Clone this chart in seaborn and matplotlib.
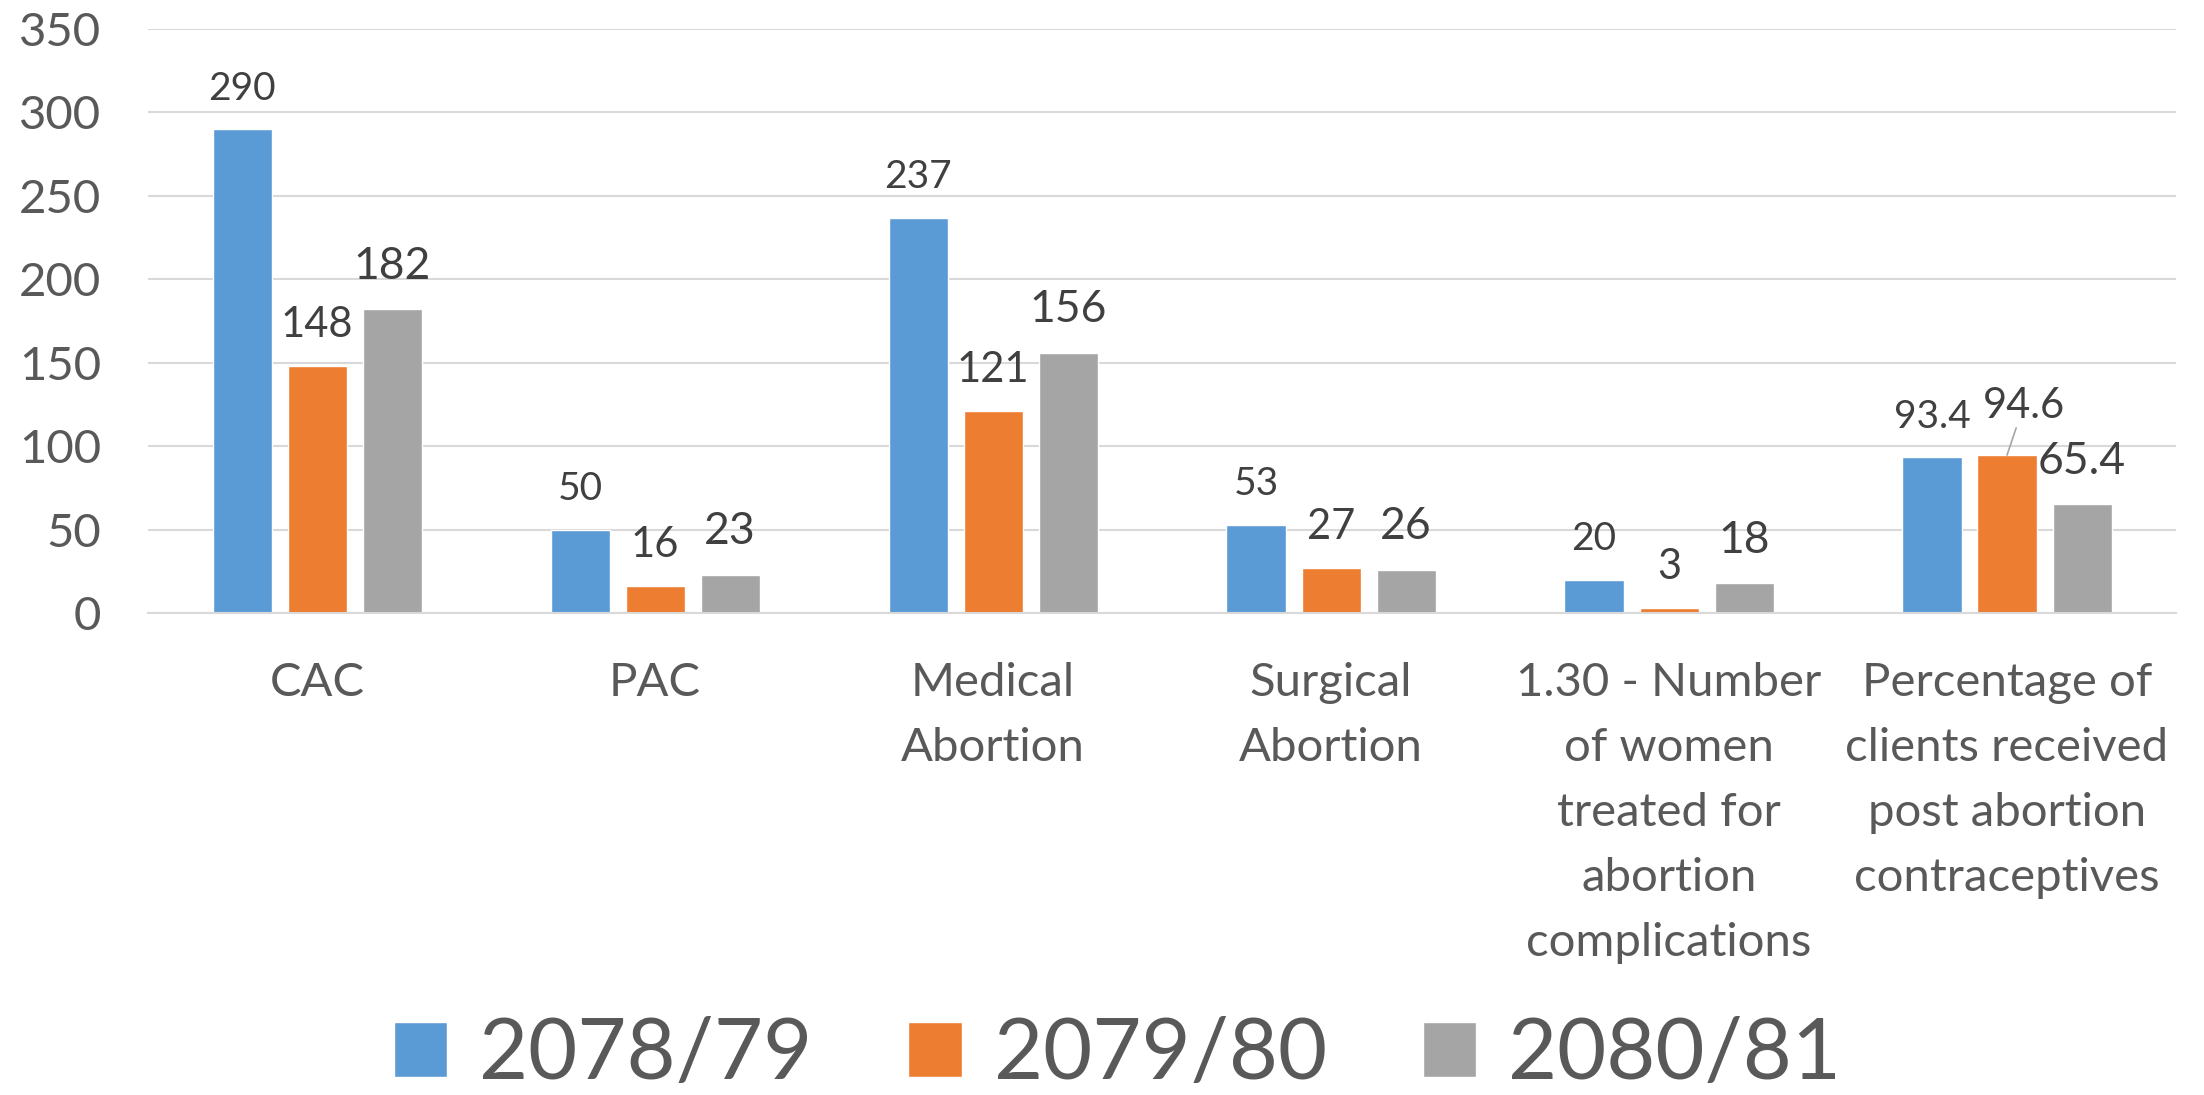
import matplotlib
matplotlib.use("Agg")
import matplotlib.pyplot as plt
import seaborn as sns
import pandas as pd

categories = ["CAC", "PAC", "Medical\nAbortion", "Surgical\nAbortion",
              "1.30 - Number\nof women\ntreated for\nabortion\ncomplications",
              "Percentage of\nclients received\npost abortion\ncontraceptives"]
years = ["2078/79", "2079/80", "2080/81"]
v_7879 = [290, 50, 237, 53, 20, 93.4]
v_7980 = [148, 16, 121, 27, 3, 94.6]
v_8081 = [182, 23, 156, 26, 18, 65.4]
label_text = [["290", "50", "237", "53", "20", "93.4"],
              ["148", "16", "121", "27", "3", "94.6"],
              ["182", "23", "156", "26", "18", "65.4"]]

colors = ["#5B9BD5", "#ED7D31", "#A5A5A5"]
label_sizes = [28, 30, 32]

df = pd.DataFrame({
    "category": categories * 3,
    "year": [y for y in years for _ in categories],
    "value": v_7879 + v_7980 + v_8081,
})

sns.set_style("white")
plt.rcParams["font.family"] = ["Lato", "DejaVu Sans"]

fig = plt.figure(figsize=(22.04, 10.95), dpi=100)
ax = fig.add_axes([0.0672, 0.4402, 0.9201, 0.5333])

sns.barplot(data=df, x="category", y="value", hue="year", order=categories,
            hue_order=years, palette=colors, width=0.666, gap=0.213,
            saturation=1, ax=ax, legend=True)

ax.set_ylim(0, 350)
ax.set_yticks(range(0, 351, 50))
ax.set_xlim(-0.5, len(categories) - 0.5)
ax.yaxis.grid(True, color="#D9D9D9", linewidth=1.5)
ax.set_axisbelow(True)
for s in ["top", "right", "left"]:
    ax.spines[s].set_visible(False)
ax.spines["bottom"].set_color("#D9D9D9")
ax.spines["bottom"].set_linewidth(1.5)
ax.set_xlabel("")
ax.set_ylabel("")
ax.tick_params(axis="y", length=0, pad=34, labelsize=34, labelcolor="#595959")
ax.tick_params(axis="x", length=0, pad=35, labelsize=34, labelcolor="#595959")
for t in ax.get_xticklabels():
    t.set_linespacing(1.68)

# data labels
for i, cont in enumerate(ax.containers):
    for j, bar in enumerate(cont):
        x = bar.get_x() + bar.get_width() / 2
        h = bar.get_height()
        if label_text[i][j] == "94.6":
            ax.annotate(label_text[i][j], xy=(x, h), xytext=(12, 22),
                        textcoords="offset points", ha="center", va="bottom",
                        fontsize=label_sizes[i], color="#404040",
                        arrowprops=dict(arrowstyle="-", color="#A6A6A6",
                                        lw=1.2, shrinkA=0, shrinkB=0))
        else:
            ax.annotate(label_text[i][j], xy=(x, h), xytext=(0, 16),
                        textcoords="offset points", ha="center", va="bottom",
                        fontsize=label_sizes[i], color="#404040")

handles, labels = ax.get_legend_handles_labels()
ax.legend_.remove()
leg = fig.legend(handles, labels, loc="center", bbox_to_anchor=(0.507, 0.0365),
                 ncol=3, frameon=False, fontsize=61, handlelength=0.63,
                 handleheight=0.63, handletextpad=0.38, columnspacing=1.13,
                 labelcolor="#595959")

fig.savefig("out.png", dpi=100)
